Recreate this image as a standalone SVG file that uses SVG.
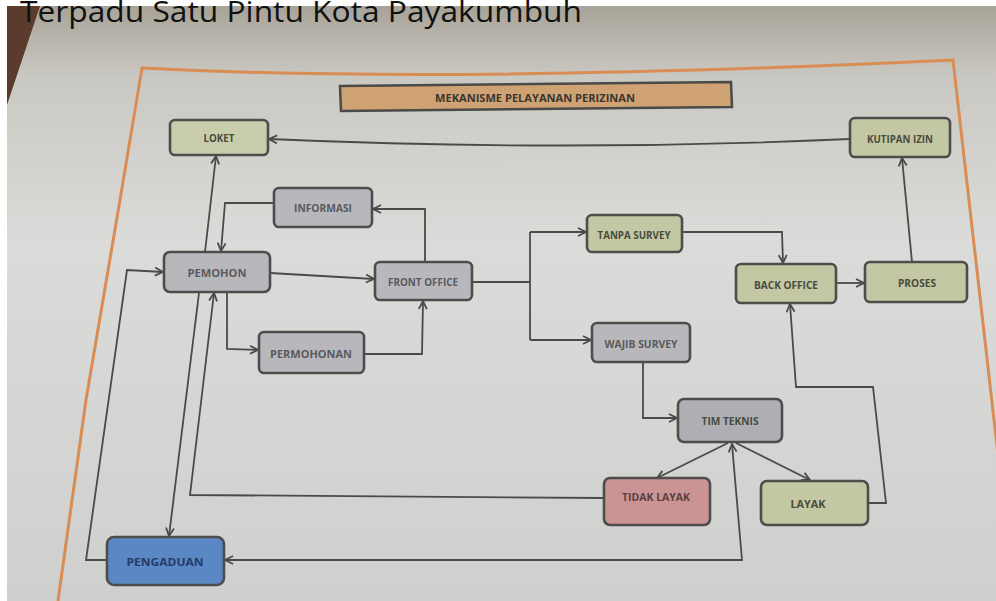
<svg xmlns="http://www.w3.org/2000/svg" width="996" height="601" viewBox="0 0 996 601">
<defs>
<linearGradient id="paper" x1="0" y1="0" x2="0" y2="1">
<stop offset="0" stop-color="#a8a398"/>
<stop offset="0.12" stop-color="#cac8c2"/>
<stop offset="0.4" stop-color="#dbdbd9"/>
<stop offset="1" stop-color="#cfcfcd"/>
</linearGradient>
<marker id="ah" viewBox="0 0 10 10" refX="9" refY="5" markerWidth="10" markerHeight="10" markerUnits="userSpaceOnUse" orient="auto-start-reverse">
<path d="M1,1 L9,5 L1,9" fill="none" stroke="#4a4a4a" stroke-width="1.8"/>
</marker>
<style>
.box{stroke:#4d4d4d;stroke-width:2.6}
.kh{fill:#c4c7a3}
.gr{fill:#b8b8bc}
.lbl{font-family:"Open Sans","Liberation Sans",sans-serif;font-weight:bold;font-size:11px;text-anchor:middle;dominant-baseline:central;fill:#5a5a5c}
.kt{fill:#474b3c}
.ln{fill:none;stroke:#4a4a4a;stroke-width:1.8}
.ar{marker-end:url(#ah)}
</style>
</defs>
<rect width="996" height="601" fill="#ffffff"/>
<rect x="7" y="6" width="989" height="595" fill="url(#paper)"/>
<polygon points="7,6 40,6 7,105" fill="#5b3c2c"/>
<text x="20" y="22" font-family="'Open Sans','Noto Sans',sans-serif" font-size="30" fill="#111111" textLength="562" lengthAdjust="spacingAndGlyphs">Terpadu Satu Pintu Kota Payakumbuh</text>
<path d="M58,601 L86,400 L120,200 L142,68 Q450,84 953,60 L1010,560" fill="none" stroke="#d98d55" stroke-width="3"/>
<g id="title">
<polygon points="340,86 731,82 732,107 341,111" fill="#cfa273" stroke="#4a4a48" stroke-width="2.5"/>
<text x="535" y="98" class="lbl" style="fill:#3a3530;font-size:10px" textLength="200" lengthAdjust="spacingAndGlyphs">MEKANISME PELAYANAN PERIZINAN</text>
</g>
<g id="connectors">
<path class="ln ar" d="M850,139 Q560,152 269,139"/>
<path class="ln ar" d="M205,252 L216,156"/>
<path class="ln ar" d="M425,262 L425,209 L373,209"/>
<path class="ln ar" d="M274,203 L225,203 L221,251"/>
<path class="ln ar" d="M270,273 L374,279"/>
<path class="ln ar" d="M107,560 L86,560 L127,270 L163,272"/>
<path class="ln ar" d="M199,293 L169,536"/>
<path class="ln ar" d="M604,498 L190,495 L214,293"/>
<path class="ln ar" d="M227,293 L227,349 L258,350"/>
<path class="ln ar" d="M364,354 L422,354 L423,301"/>
<path class="ln" d="M472,282 L530,282 M530,232 L530,340"/>
<path class="ln ar" d="M530,232 L586,232"/>
<path class="ln ar" d="M530,340 L591,340"/>
<path class="ln ar" d="M682,232 L782,232 L783,263"/>
<path class="ln ar" d="M836,283 L864,283"/>
<path class="ln ar" d="M912,262 L902,158"/>
<path class="ln ar" d="M643,362 L643,418 L677,418"/>
<path class="ln ar" d="M728,443 L657,478"/>
<path class="ln ar" d="M736,443 L810,480"/>
<path class="ln ar" d="M868,503 L886,503 L873,387 L796,387 L790,304"/>
<path class="ln ar" d="M225,560 L742,560 L732,444" style="marker-start:url(#ah)"/>
</g>
<g id="loket"><rect class="box" x="170" y="120" width="98" height="35" rx="5" fill="#c9cdab"/><text class="lbl kt" x="219" y="137" textLength="31" lengthAdjust="spacingAndGlyphs">LOKET</text></g>
<g id="informasi"><rect class="box gr" x="274" y="188" width="98" height="39" rx="5"/><text class="lbl" x="323" y="207" textLength="58" lengthAdjust="spacingAndGlyphs">INFORMASI</text></g>
<g id="pemohon"><rect class="box gr" x="164" y="252" width="106" height="40" rx="6"/><text class="lbl" x="217" y="272" textLength="59" lengthAdjust="spacingAndGlyphs">PEMOHON</text></g>
<g id="frontoffice"><rect class="box gr" x="375" y="262" width="97" height="38" rx="5"/><text class="lbl" x="423" y="281" textLength="70" lengthAdjust="spacingAndGlyphs">FRONT OFFICE</text></g>
<g id="tanpasurvey"><rect class="box kh" x="587" y="215" width="95" height="37" rx="5"/><text class="lbl kt" x="634" y="234" textLength="73" lengthAdjust="spacingAndGlyphs">TANPA SURVEY</text></g>
<g id="wajibsurvey"><rect class="box gr" x="592" y="323" width="98" height="39" rx="5"/><text class="lbl" x="641" y="343" textLength="73" lengthAdjust="spacingAndGlyphs">WAJIB SURVEY</text></g>
<g id="permohonan"><rect class="box gr" x="259" y="332" width="105" height="41" rx="5"/><text class="lbl" x="311" y="353" textLength="82" lengthAdjust="spacingAndGlyphs">PERMOHONAN</text></g>
<g id="kutipanizin"><rect class="box kh" x="850" y="118" width="100" height="39" rx="5"/><text class="lbl kt" x="900" y="138" textLength="66" lengthAdjust="spacingAndGlyphs">KUTIPAN IZIN</text></g>
<g id="backoffice"><rect class="box kh" x="736" y="264" width="100" height="39" rx="5"/><text class="lbl kt" x="786" y="284" textLength="64" lengthAdjust="spacingAndGlyphs">BACK OFFICE</text></g>
<g id="proses"><rect class="box kh" x="865" y="262" width="102" height="40" rx="5"/><text class="lbl kt" x="917" y="282" textLength="38" lengthAdjust="spacingAndGlyphs">PROSES</text></g>
<g id="timteknis"><rect class="box" x="678" y="399" width="104" height="43" rx="6" fill="#afafb3"/><text class="lbl kt" x="730" y="420" textLength="57" lengthAdjust="spacingAndGlyphs">TIM TEKNIS</text></g>
<g id="tidaklayak"><rect class="box" x="604" y="478" width="106" height="47" rx="6" fill="#c99493"/><text class="lbl" x="656" y="496" style="fill:#5a4040" textLength="68" lengthAdjust="spacingAndGlyphs">TIDAK LAYAK</text></g>
<g id="layak"><rect class="box kh" x="761" y="481" width="107" height="44" rx="6"/><text class="lbl kt" x="808" y="503" textLength="35" lengthAdjust="spacingAndGlyphs">LAYAK</text></g>
<g id="pengaduan"><rect class="box" x="107" y="537" width="117" height="48" rx="7" fill="#5b88c4" stroke="#3d4452"/><text class="lbl" x="165" y="561" style="fill:#243a68" textLength="77" lengthAdjust="spacingAndGlyphs">PENGADUAN</text></g>
</svg>
